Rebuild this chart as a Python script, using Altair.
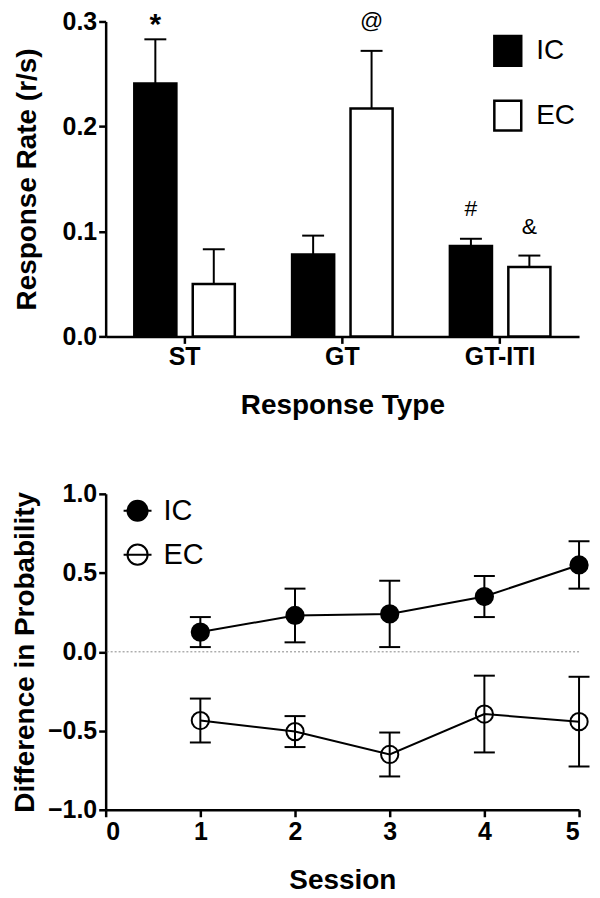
import altair as alt
import pandas as pd

FONT = "Liberation Sans"

# ---------- top panel data ----------
categories = ["ST", "GT", "GT-ITI"]
groups = ["IC", "EC"]
ic_rate = [0.241, 0.078, 0.086]
ic_sem = [0.042, 0.018, 0.007]
ec_rate = [0.050, 0.217, 0.066]
ec_sem = [0.033, 0.055, 0.011]

ann_cat = ["ST", "GT", "GT-ITI", "GT-ITI"]
ann_group = ["IC", "EC", "IC", "EC"]
ann_label = ["*", "@", "#", "&"]
ann_y = [0.3105, 0.300, 0.1215, 0.1045]

# ---------- bottom panel data ----------
sessions = [1, 2, 3, 4, 5]
ic_diff = [0.125, 0.23, 0.24, 0.35, 0.55]
ic_diff_sem = [0.095, 0.17, 0.21, 0.13, 0.15]
ec_diff = [-0.435, -0.505, -0.65, -0.394, -0.442]
ec_diff_sem = [0.139, 0.098, 0.139, 0.243, 0.284]

bar_df = pd.DataFrame({
    "cat": categories * 2,
    "group": ["IC"] * 3 + ["EC"] * 3,
    "value": ic_rate + ec_rate,
    "sem": ic_sem + ec_sem,
})
bar_df["hi"] = bar_df["value"] + bar_df["sem"]

ann_df = pd.DataFrame({"cat": ann_cat, "group": ann_group, "label": ann_label, "ypos": ann_y})

line_df = pd.DataFrame({
    "session": sessions * 2,
    "cond": ["IC"] * 5 + ["EC"] * 5,
    "mean": ic_diff + ec_diff,
    "sem": ic_diff_sem + ec_diff_sem,
})
line_df["lo"] = line_df["mean"] - line_df["sem"]
line_df["hi"] = line_df["mean"] + line_df["sem"]

W = 475
H = 316

# ---------- top panel ----------
x_top = alt.X("cat:N", sort=categories,
              scale=alt.Scale(paddingInner=0, paddingOuter=0),
              axis=alt.Axis(title="Response Type", labelAngle=0, labelPadding=1, titlePadding=22),
              title="Response Type")
xoff = alt.XOffset("group:N", sort=groups,
                   scale=alt.Scale(domain=groups, paddingInner=0.28, paddingOuter=0.49))
y_top_scale = alt.Scale(domain=[0, 0.3], nice=False)
y_top_axis = alt.Axis(values=[0, 0.1, 0.2, 0.3], format=".1f",
                      title="Response Rate (r/s)", titlePadding=21)


def ytop(field):
    return alt.Y(field, scale=y_top_scale, axis=y_top_axis, title="Response Rate (r/s)")


bars = alt.Chart(bar_df).mark_bar(stroke="black", strokeWidth=2.5).encode(
    x=x_top,
    xOffset=xoff,
    y=ytop("value:Q"),
    fill=alt.Fill("group:N", sort=groups,
                  scale=alt.Scale(domain=groups, range=["black", "white"]),
                  legend=alt.Legend(title=None, orient="none", legendX=387, legendY=13,
                                    symbolType="M-0.9,-1H0.9V1H-0.9Z", symbolSize=900,
                                    symbolStrokeColor="black", symbolStrokeWidth=2.5,
                                    labelFont=FONT, labelFontSize=28, labelColor="black",
                                    labelOffset=12, rowPadding=24, padding=0)),
)

err_rule = alt.Chart(bar_df).mark_rule(color="black", strokeWidth=2).encode(
    x=x_top, xOffset=xoff, y=ytop("value:Q"), y2="hi:Q",
)
err_cap = alt.Chart(bar_df).mark_tick(color="black", orient="horizontal", size=22,
                                      thickness=2, opacity=1).encode(
    x=x_top, xOffset=xoff, y=ytop("hi:Q"),
)
star = alt.Chart(ann_df).transform_filter(alt.datum.label == "*").mark_text(
    font=FONT, fontSize=30, fontWeight="bold", baseline="top", color="black").encode(
    x=x_top, xOffset=xoff, y=ytop("ypos:Q"), text="label:N")
others = alt.Chart(ann_df).transform_filter(alt.datum.label != "*").mark_text(
    font=FONT, fontSize=23, baseline="middle", color="black").encode(
    x=x_top, xOffset=xoff, y=ytop("ypos:Q"), text="label:N")

top = alt.layer(bars, err_rule, err_cap, star, others).properties(width=W, height=H)

# ---------- bottom panel ----------
x_bot = alt.X("session:Q", scale=alt.Scale(domain=[0, 5], nice=False),
              axis=alt.Axis(values=[0, 1, 2, 3, 4, 5], format="d", title="Session",
                            labelPadding=3, titlePadding=22),
              title="Session")
y_bot_scale = alt.Scale(domain=[-1, 1], nice=False)
y_bot_axis = alt.Axis(values=[-1, -0.5, 0, 0.5, 1], format=".1f",
                      title="Difference in Probability", titlePadding=8)


def ybot(field):
    return alt.Y(field, scale=y_bot_scale, axis=y_bot_axis, title="Difference in Probability")


zero = alt.Chart(pd.DataFrame({"z": [0]})).mark_rule(
    color="#888888", strokeWidth=1, strokeDash=[2, 2]).encode(y=ybot("z:Q"))

d_rule = alt.Chart(line_df).mark_rule(color="black", strokeWidth=2).encode(
    x=x_bot, y=ybot("lo:Q"), y2="hi:Q")
d_cap_hi = alt.Chart(line_df).mark_tick(color="black", orient="horizontal", size=21,
                                        thickness=2, opacity=1).encode(
    x=x_bot, y=ybot("hi:Q"))
d_cap_lo = alt.Chart(line_df).mark_tick(color="black", orient="horizontal", size=21,
                                        thickness=2, opacity=1).encode(
    x=x_bot, y=ybot("lo:Q"))
d_line = alt.Chart(line_df).mark_line(color="black", strokeWidth=2).encode(
    x=x_bot, y=ybot("mean:Q"), detail="cond:N")
d_pts = alt.Chart(line_df).mark_point(filled=True, shape="circle", size=300, stroke="black",
                                      strokeWidth=2, opacity=1).encode(
    x=x_bot, y=ybot("mean:Q"),
    fill=alt.Fill("cond:N", sort=groups,
                  scale=alt.Scale(domain=groups, range=["black", "transparent"]),
                  legend=alt.Legend(title=None, orient="none", legendX=17, legendY=2,
                                    symbolType="M-1,0H1M-0.72,0A0.72,0.72,0,1,1,0.72,0A0.72,0.72,0,1,1,-0.72,0Z",
                                    symbolSize=784, symbolStrokeColor="black",
                                    symbolStrokeWidth=2,
                                    labelFont=FONT, labelFontSize=29, labelColor="black",
                                    labelOffset=11, rowPadding=14, padding=0)),
)

bottom = alt.layer(zero, d_rule, d_cap_hi, d_cap_lo, d_line, d_pts).properties(width=W, height=317)

chart = alt.vconcat(top, bottom, spacing=63).resolve_scale(
    fill="independent").resolve_legend(fill="independent").properties(
    padding={"left": 3, "top": 0, "right": 0, "bottom": 0}
).configure_view(stroke=None).configure_axis(
    domainColor="black", domainWidth=2.5, tickColor="black", tickWidth=2.5, tickSize=7,
    labelFont=FONT, labelFontSize=25, labelFontWeight="bold", labelColor="black",
    titleFont=FONT, titleFontSize=28, titleFontWeight="bold", titleColor="black",
    grid=False,
)

chart.save("out.html", embed_options={"renderer": "svg", "actions": False})
